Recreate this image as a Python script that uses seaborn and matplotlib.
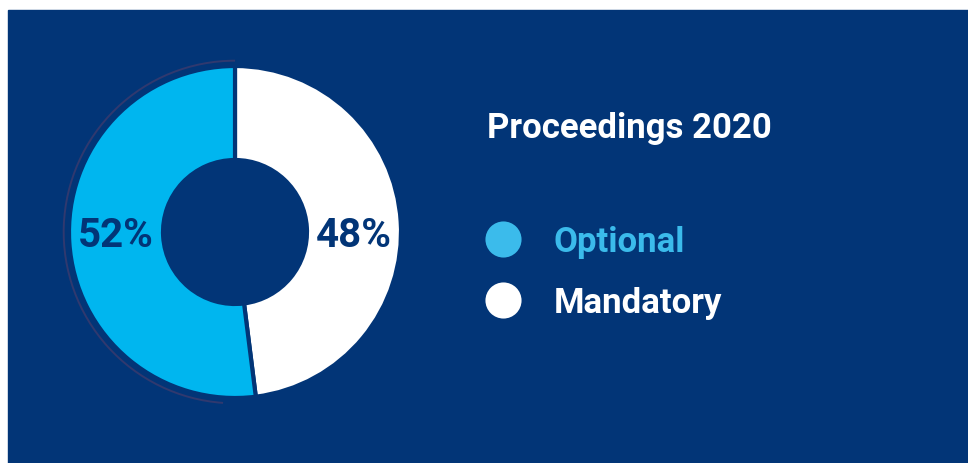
import numpy as np
import seaborn as sns
import matplotlib.pyplot as plt
from matplotlib.patches import Rectangle, Arc
from matplotlib.lines import Line2D

# data
categories = ['Optional', 'Mandatory']
shares = [52, 48]
title = 'Proceedings 2020'

navy = '#023577'
cyan = '#00B6EF'
legend_cyan = '#3BBBEB'
colors = [cyan, 'white']

sns.set_theme(style='white')
plt.rcParams['font.family'] = ['Roboto', 'DejaVu Sans']

W, H = 968, 464
fig = plt.figure(figsize=(W / 100, H / 100), dpi=100)
fig.patch.set_facecolor('white')
fig.patches.append(Rectangle((8 / W, 0), (W - 8) / W, (H - 11) / H,
                             transform=fig.transFigure, color=navy, zorder=-5))

# donut: centre (235, 233) px, outer radius 166 px, inner 72 px
R = 166
cx, cy = 235, 233
lim = 1.1
half = lim * R
ax = fig.add_axes([(cx - half) / W, (H - cy - half) / H, 2 * half / W, 2 * half / H])
ax.set_zorder(2)
ax.set_facecolor('none')

# white slice (Mandatory) runs clockwise from 12 o'clock, cyan fills the rest
vals = shares[::-1]
cols = colors[::-1]
wedges, _ = ax.pie(vals, colors=cols, startangle=90, counterclock=False,
                   radius=1, wedgeprops=dict(width=(R - 72) / R, edgecolor=navy,
                                             linewidth=3))
ax.add_patch(Arc((0, 0), 2 * 1.032, 2 * 1.032, theta1=90, theta2=266,
                 color='#30396f', lw=1.4))
ax.set_xlim(-lim, lim)
ax.set_ylim(-lim, lim)
ax.set_aspect('equal')
ax.axis('off')

rmid = (1 + 72 / R) / 2
ax.text(-rmid, -0.02, f'{shares[0]}%', ha='center', va='center', color=navy,
        fontsize=29, fontweight='bold')
ax.text(rmid, -0.02, f'{shares[1]}%', ha='center', va='center', color=navy,
        fontsize=29, fontweight='bold')

fig.text(487 / W, 1 - 138 / H, title, color='white', fontsize=25,
         fontweight='bold', va='baseline', ha='left', zorder=3)

handles = [Line2D([], [], marker='o', linestyle='none', markersize=26,
                  markerfacecolor=c, markeredgecolor='none')
           for c in [legend_cyan, 'white']]
leg = fig.legend(handles, categories, loc='upper left',
                 bbox_to_anchor=(486 / W, 1 - 226 / H), frameon=False,
                 handlelength=1.0, handletextpad=0.95,
                 labelspacing=0.8, borderpad=0, borderaxespad=0,
                 labelcolor=[legend_cyan, 'white'],
                 prop=dict(weight='bold', size=25))
leg.set_zorder(3)

fig.savefig('out.png', dpi=100, facecolor=fig.get_facecolor())
